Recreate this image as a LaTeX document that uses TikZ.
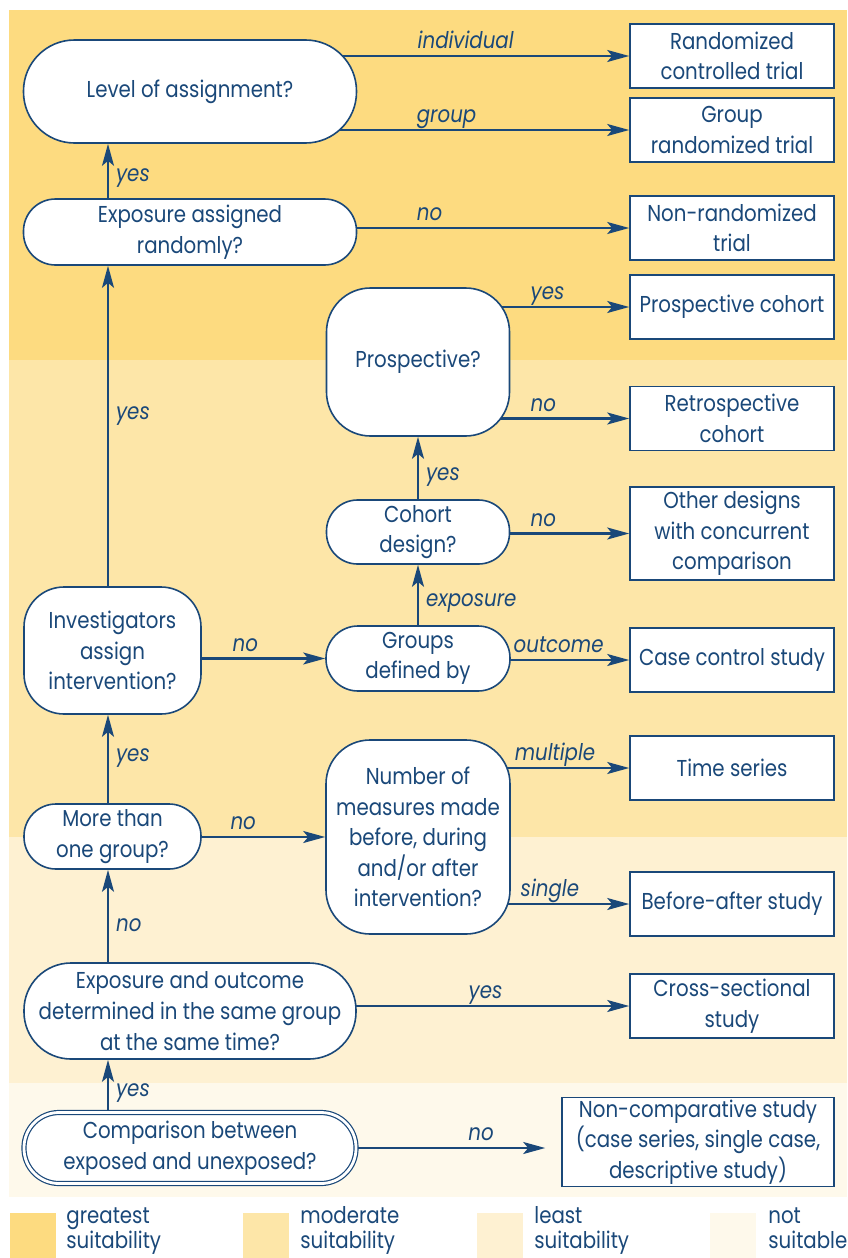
\documentclass[tikz,border=0pt]{standalone}
\usepackage{fontspec}
\setmainfont[FakeStretch=0.86]{Poppins}
\usetikzlibrary{arrows.meta}
\pgfdeclarelayer{back}
\pgfsetlayers{back,main}

\definecolor{navy}{RGB}{26,72,121}
\definecolor{greatest}{RGB}{253,219,128}
\definecolor{moderate}{RGB}{253,230,168}
\definecolor{least}{RGB}{254,241,210}
\definecolor{notsuit}{RGB}{254,249,235}

\begin{document}
\begin{tikzpicture}[x=0.5pt,y=-0.5pt,
    every node/.style={text=navy,font=\fontsize{11.5}{15.3}\selectfont},
    question/.style={draw=navy,line width=0.8pt,fill=white,align=center,inner sep=1pt},
    design/.style={draw=navy,line width=0.8pt,fill=white,align=center,inner sep=1pt,
        minimum width=102pt,minimum height=32pt},
    arr/.style={draw=navy,line width=1.1pt,-{Stealth[length=11pt,width=6pt,inset=2.5pt]}},
    hlbl/.style={font=\fontsize{11.5}{14}\selectfont\itshape,inner sep=0pt,anchor=base west,yshift=3.75pt},
    vlbl/.style={font=\fontsize{11.5}{14}\selectfont\itshape,inner sep=0pt,anchor=west,xshift=3.5pt},
    legendtxt/.style={font=\fontsize{11.5}{12.5}\selectfont,align=left,inner sep=0pt,anchor=base west}]

\useasboundingbox (0,0) rectangle (847,1258);

% suitability bands
\begin{pgfonlayer}{back}
\fill[greatest] (9,10) rectangle (847,360);
\fill[moderate] (9,360) rectangle (847,837);
\fill[least] (9,837) rectangle (847,1083);
\fill[notsuit] (9,1083) rectangle (847,1197);
\end{pgfonlayer}

% questions
\node[question,minimum width=166.5pt,minimum height=51.5pt,rounded corners=25.5pt] (level) at (190,91.5) {Level of assignment?};
\node[question,minimum width=166.5pt,minimum height=33pt,rounded corners=16pt] (exprand) at (190,232) {Exposure assigned\\randomly?};
\node[question,minimum width=91.5pt,minimum height=74pt,rounded corners=22pt] (prosp) at (418,362) {Prospective?};
\node[question,minimum width=91.5pt,minimum height=32pt,rounded corners=15.5pt] (cohort) at (418,532) {Cohort\\design?};
\node[question,minimum width=92pt,minimum height=32.5pt,rounded corners=16pt] (groups) at (418,658.5) {Groups\\defined by};
\node[question,minimum width=88.5pt,minimum height=63.5pt,rounded corners=20pt] (invest) at (112.5,650.5) {Investigators\\assign\\intervention?};
\node[question,minimum width=88.5pt,minimum height=32.5pt,rounded corners=16pt] (more) at (112.5,836.5) {More than\\one group?};
\node[question,minimum width=92pt,minimum height=97pt,rounded corners=22pt] (number) at (418,837) {Number of\\measures made\\before, during\\and/or after\\intervention?};
\node[question,minimum width=166pt,minimum height=48pt,rounded corners=23.5pt] (expout) at (190,1011) {Exposure and outcome\\determined in the same group\\at the same time?};
\node[question,minimum width=166pt,minimum height=35.5pt,rounded corners=17.5pt,
    double=white,double distance=1.4pt,line width=0.6pt] (compare) at (190,1148) {Comparison between\\exposed and unexposed?};

% designs
\node[design] (rct) at (732,56) {Randomized\\controlled trial};
\node[design] (grt) at (732,130) {Group\\randomized trial};
\node[design] (nonrand) at (732,228) {Non-randomized\\trial};
\node[design] (proscoh) at (732,307) {Prospective cohort};
\node[design] (retro) at (732,418.5) {Retrospective\\cohort};
\node[design,minimum height=46.5pt] (other) at (732,533.5) {Other designs\\with concurrent\\comparison};
\node[design] (casectrl) at (732,660) {Case control study};
\node[design] (timeser) at (732,768) {Time series};
\node[design] (befaft) at (732,904) {Before-after study};
\node[design] (crosssec) at (732,1006) {Cross-sectional\\study};
\node[design,minimum width=136pt,minimum height=44pt] (noncomp) at (698,1142) {Non-comparative study\\(case series, single case,\\descriptive study)};

% connectors
\coordinate (spine) at (108,0);
\begin{pgfonlayer}{back}
\draw[arr] (compare.north -| spine) -- node[vlbl,pos=.36] {yes} (expout.south -| spine);
\draw[arr] (expout.north -| spine) -- node[vlbl,pos=.4] {no} (more.south -| spine);
\draw[arr] (more.north -| spine) -- node[vlbl,pos=.51] {yes} (invest.south -| spine);
\draw[arr] (invest.north -| spine) -- node[vlbl,pos=.53] {yes} (exprand.south -| spine);
\draw[arr] (exprand.north -| spine) -- node[vlbl,pos=.375] {yes} (level.south -| spine);
\draw[arr] (groups.north) -- node[vlbl,pos=.37] {exposure} (cohort.south);
\draw[arr] (cohort.north) -- node[vlbl,pos=.36] {yes} (prosp.south);

\draw[arr] (level.center |- rct.west) -- node[hlbl,pos=.516] {individual} (rct.west);
\draw[arr] (level.center |- grt.west) -- node[hlbl,pos=.514] {group} (grt.west);
\draw[arr] (exprand.center |- nonrand.west) -- node[hlbl,pos=.514] {no} (nonrand.west);
\draw[arr] (prosp.center |- proscoh.west) -- node[hlbl,pos=.528] {yes} (proscoh.west);
\draw[arr] (prosp.center |- retro.west) -- node[hlbl,pos=.528] {no} (retro.west);
\draw[arr] (cohort.center |- other.west) -- node[hlbl,pos=.528] {no} (other.west);
\draw[arr] (groups.center |- casectrl.west) -- node[hlbl,pos=.448] {outcome} (casectrl.west);
\draw[arr] (number.center |- timeser.west) -- node[hlbl,pos=.453] {multiple} (timeser.west);
\draw[arr] (number.center |- befaft.west) -- node[hlbl,pos=.481] {single} (befaft.west);
\draw[arr] (invest.center |- groups.west) -- node[hlbl,pos=.56] {no} (groups.west);
\draw[arr] (more.center |- number.west) -- node[hlbl,pos=.55] {no} (number.west);
\draw[arr] (expout.center |- crosssec.west) -- node[hlbl,pos=.632] {yes} (crosssec.west);
\draw[arr,shorten >=8pt] (compare.center) -- node[hlbl,pos=.747] {no} (compare.center -| noncomp.west);
\end{pgfonlayer}

% legend
\fill[greatest] (10,1213) rectangle (56,1258);
\node[legendtxt] (lgreatest) at (66,1248) {greatest\\suitability};
\fill[moderate] (243,1213) rectangle (289,1258);
\node[legendtxt] (lmoderate) at (300,1248) {moderate\\suitability};
\fill[least] (477,1213) rectangle (523,1258);
\node[legendtxt] (lleast) at (534,1248) {least\\suitability};
\fill[notsuit] (710,1213) rectangle (756,1258);
\node[legendtxt] (lnot) at (768,1248) {not\\suitable};

\end{tikzpicture}
\end{document}
